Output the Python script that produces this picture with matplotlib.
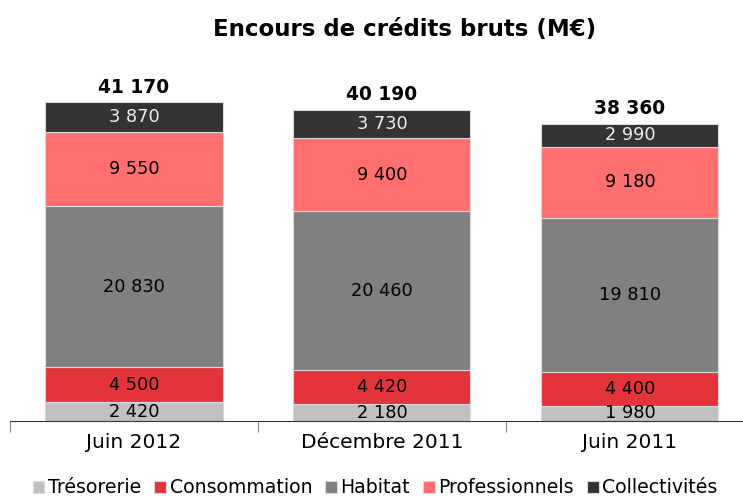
import matplotlib
matplotlib.use('Agg')
from matplotlib import pyplot as plt
import numpy as np

categories = ['Juin 2012', 'Décembre 2011', 'Juin 2011']
series = ['Trésorerie', 'Consommation', 'Habitat', 'Professionnels', 'Collectivités']
tresorerie = [2420, 2180, 1980]
consommation = [4500, 4420, 4400]
habitat = [20830, 20460, 19810]
professionnels = [9550, 9400, 9180]
collectivites = [3870, 3730, 2990]
totals = [41170, 40190, 38360]

colors = ['#C0C0C0', '#E3333B', '#808080', '#FF6F6F', '#333333']
text_colors = ['black', 'black', 'black', 'black', '#EEEEEE']

def fmt(v):
    return f'{v:,}'.replace(',', ' ')

plt.rcParams['font.family'] = ['DejaVu Sans']
fig = plt.figure(figsize=(7.43, 4.97), dpi=100)
ax = fig.add_axes([10/743, 76/497, 733/743, 361/497])

x = np.arange(len(categories))
data = [tresorerie, consommation, habitat, professionnels, collectivites]
bottom = np.zeros(len(categories))
for vals, name, c, tc in zip(data, series, colors, text_colors):
    ax.bar(x, vals, 0.714, bottom=bottom, color=c, edgecolor='#D9D9D9', linewidth=0.8, label=name)
    for xi, b, v in zip(x, bottom, vals):
        ax.text(xi, b + v / 2, fmt(v), ha='center', va='center', fontsize=12.8, color=tc)
    bottom += np.array(vals)

for xi, t in zip(x, totals):
    ax.text(xi, t + 700, fmt(t), ha='center', va='bottom', fontsize=13.4, fontweight='bold')

ax.set_xlim(-0.5, 2.456)
ax.set_ylim(0, 46580)
for s in ['top', 'right', 'left']:
    ax.spines[s].set_visible(False)
ax.spines['bottom'].set_color('#333333')
ax.set_yticks([])
ax.set_xticks([-0.5, 0.5, 1.5])
ax.set_xticklabels([])
ax.tick_params(axis='x', length=8, color='#888888')
for xi, c in zip(x, categories):
    ax.text(xi, -1500, c, ha='center', va='top', fontsize=14.5)

fig.text(0.545, 0.94, 'Encours de crédits bruts (M€)', ha='center', va='center', fontsize=16.5, fontweight='bold')
fig.legend(loc='lower center', bbox_to_anchor=(0.505, -0.035), ncol=5, frameon=False, fontsize=13.6,
           handlelength=0.6, handleheight=0.6, handletextpad=0.2, columnspacing=0.7)

fig.savefig('out.png', dpi=100)
